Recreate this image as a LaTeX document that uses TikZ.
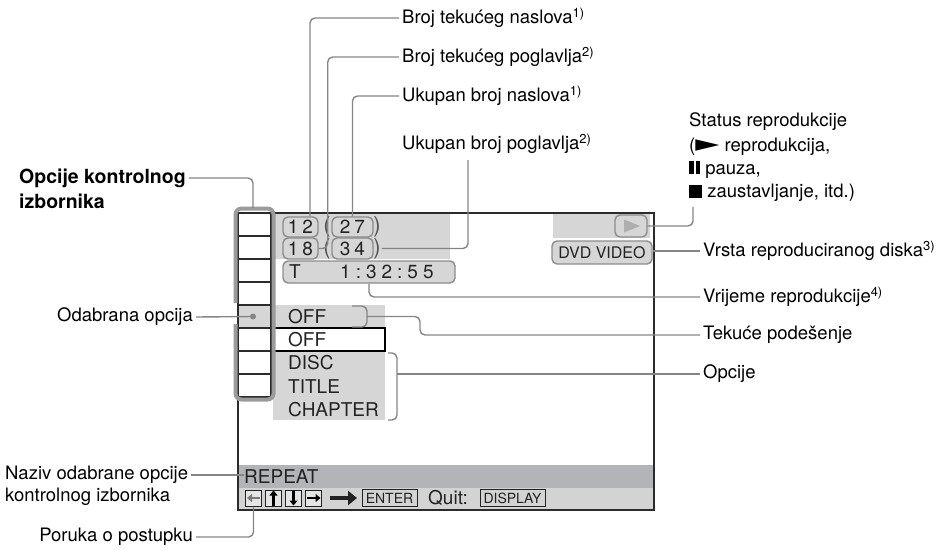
\documentclass[tikz,border=0pt]{standalone}
\usepackage{graphicx}
\usepackage{fontspec}
\setmainfont{TeX Gyre Heros}
\newfontfamily\symfont{DejaVu Sans}
\usetikzlibrary{arrows.meta}

\begin{document}
\begin{tikzpicture}[
    x=1pt, y=-1pt,
    font=\fontsize{18.5}{22}\selectfont,
    conn/.style={draw=linegray, line width=1.4pt, rounded corners=5pt},
    label/.style={inner sep=3pt},
    osd/.style={font=\fontsize{19}{22}\selectfont, text=osdtext, inner sep=0pt},
    pill/.style={draw=pillgray, line width=1.4pt, fill=osdgray, rounded corners=5pt, inner sep=0pt},
    paren/.style={font=\fontsize{22}{24}\selectfont, text=pillgray!60!black, inner sep=1pt},
    iconbox/.style={draw=osdtext, fill=barlight!60, line width=1pt, minimum width=16pt, minimum height=16pt, inner sep=0pt},
    keybox/.style={draw=osdtext, line width=1pt, minimum height=17pt, inner sep=1pt, font=\fontsize{14}{16}\selectfont, text=osdtext},
    icoarrow/.style={line width=2.2pt, -{Triangle[length=5pt,width=8pt]}}
]

% Colours of the on-screen display
\definecolor{linegray}{RGB}{133, 133, 133}
\definecolor{pillgray}{RGB}{140, 140, 140}
\definecolor{osdgray}{RGB}{214, 214, 214}
\definecolor{bardark}{RGB}{178, 180, 183}
\definecolor{barlight}{RGB}{211, 211, 211}
\definecolor{brgray}{RGB}{155, 155, 155}
\definecolor{screenline}{RGB}{43, 43, 43}
\definecolor{osdtext}{RGB}{34, 34, 34}

\useasboundingbox (0,0) rectangle (947,549);

% Grey areas on the screen
\fill[osdgray] (275,213) rectangle (450,259);
\fill[osdgray] (553,213) rectangle (650,238);
\fill[osdgray] (238,305) rectangle (385,328);
\fill[osdgray] (273,351) rectangle (385,420);
\fill[bardark] (238,465) rectangle (654,488);
\fill[barlight] (238,488) rectangle (654,510);
\filldraw[fill=white, draw=black, line width=1.4pt] (272,328) rectangle (385,351);

% Menu column cells
\foreach \y in {213,236,...,397} {
    \draw[line width=1.3pt, screenline] (238,\y) -- (271,\y);
}
\draw[line width=1.3pt, screenline] (271,213) -- (271,397);

% Screen frame
\draw[line width=2.2pt, screenline] (238,213) rectangle (654,510);

% Bracket round the menu column
\draw[line width=4pt, brgray, rounded corners=6pt]
    (235.5,303) -- (235.5,208.5) -- (273.5,208.5) -- (273.5,399.5) -- (235.5,399.5) -- (235.5,324);
\coordinate (menuTop) at (253,208);

% Title / chapter numbers
\node[pill, osd, minimum width=35pt, minimum height=20pt] (boxTitleNo) at (300.5,227) {1\hspace{4pt}2};
\node[pill, osd, minimum width=41pt, minimum height=20pt] (boxTitleTot) at (352.5,227) {2\hspace{4pt}7};
\node[paren] (parenTitleL) at (327,227) {(};
\node[paren] (parenTitleR) at (377,227) {)};
\node[pill, osd, minimum width=35pt, minimum height=21pt] (boxChapNo) at (300.5,248.5) {1\hspace{4pt}8};
\node[pill, osd, minimum width=41pt, minimum height=21pt] (boxChapTot) at (352.5,248.5) {3\hspace{4pt}4};
\node[paren] (parenChapL) at (327,248.5) {(};
\node[paren] (parenChapR) at (377,248.5) {)};

% Playing time
\node[pill, minimum width=172pt, minimum height=22pt] (boxTime) at (369,272) {};
\node[osd, anchor=west] (timeT) at (289,272) {T};
\node[osd, anchor=west] (timeVal) at (340,272) {1\hspace{5pt}:\hspace{5pt}3\hspace{5pt}2\hspace{5pt}:\hspace{5pt}5\hspace{5pt}5};

% Play status and disc type
\node[pill, minimum width=32pt, minimum height=22pt] (boxPlay) at (631,226) {};
\fill[pillgray!70] (624,219.5) -- (640,226) -- (624,232.5) -- cycle;
\node[pill, osd, font=\fontsize{16}{18}\selectfont, minimum width=100pt, minimum height=23pt] (boxDvd) at (602,252.5) {DVD VIDEO};

% Selected item and settings
\fill[linegray] (253,316.5) circle (3pt);
\coordinate (selDot) at (253,316.5);
\node[osd, anchor=west] (selOff) at (288,317) {OFF};
\draw[conn] (352,306) -- (367,306) -- (367,327) -- (352,327);
\coordinate (selEnd) at (367,316.5);
\node[osd, anchor=west] (optOff) at (288,340) {OFF};
\node[osd, anchor=west] (optDisc) at (288,363) {DISC};
\node[osd, anchor=west] (optTitle) at (288,386.5) {TITLE};
\node[osd, anchor=west] (optChapter) at (288,409.5) {CHAPTER};
\draw[conn] (388,353) -- (397,353) -- (397,420) -- (388,420);
\coordinate (optEnd) at (397,374);

% Bottom bars
\node[osd, anchor=west] (repeat) at (244,477) {REPEAT};
\node[iconbox] (icoLeft) at (253.5,498) {};
\node[iconbox] (icoUp) at (273.5,498) {};
\node[iconbox] (icoDown) at (293.5,498) {};
\node[iconbox] (icoRight) at (313.5,498) {};
\draw[icoarrow, osdtext!60] (260,498) -- (247,498);
\draw[icoarrow] (273.5,505.5) -- (273.5,490.5);
\draw[icoarrow] (293.5,490.5) -- (293.5,505.5);
\draw[icoarrow] (307,498) -- (320.5,498);
\draw[line width=4.5pt, osdtext, -{Triangle[length=9pt,width=14pt]}] (330,498) -- (357,498);
\node[keybox, minimum width=55pt] (keyEnter) at (389.5,498) {ENTER};
\node[osd, anchor=west] (quit) at (428,498) {Quit:};
\node[keybox, minimum width=65pt] (keyDisplay) at (512.5,498) {DISPLAY};

% Labels above
\node[label, anchor=west] (lblTitleNo) at (399,18) {Broj tekućeg naslova\textsuperscript{1)}};
\node[label, anchor=west] (lblChapNo) at (399,57) {Broj tekućeg poglavlja\textsuperscript{2)}};
\node[label, anchor=west] (lblTitleTot) at (399,96) {Ukupan broj naslova\textsuperscript{1)}};
\node[label, anchor=west] (lblChapTot) at (399,144) {Ukupan broj poglavlja\textsuperscript{2)}};

% Labels on the right
\node[label, anchor=west] (lblStatusA) at (686,122) {Status reprodukcije};
\node[label, anchor=west] (lblStatusB) at (686,147) {({\symfont\scalebox{1.7}[1.25]{►}} reprodukcija,};
\node[label, anchor=west] (lblStatusC) at (686,170) {\rule{4.5pt}{13pt}\hspace{2pt}\rule{4.5pt}{13pt} pauza,};
\node[label, anchor=west] (lblStatusD) at (686,193) {\rule{13pt}{13pt} zaustavljanje, itd.)};
\node[label, anchor=west] (lblDisc) at (700,251) {Vrsta reproduciranog diska\textsuperscript{3)}};
\node[label, anchor=west] (lblTime) at (700,297) {Vrijeme reprodukcije\textsuperscript{4)}};
\node[label, anchor=west] (lblSetting) at (700,335) {Tekuće podešenje};
\node[label, anchor=west] (lblOptions) at (700,374) {Opcije};

% Labels on the left
\node[label, anchor=west, font=\fontsize{19.5}{23}\selectfont\bfseries] (lblMenuA) at (16,178) {Opcije kontrolnog};
\node[label, anchor=west, font=\fontsize{19.5}{23}\selectfont\bfseries] (lblMenuB) at (16,201) {izbornika};
\node[label, anchor=east] (lblSel) at (196,317) {Odabrana opcija};
\node[label, anchor=west] (lblNameA) at (2,475) {Naziv odabrane opcije};
\node[label, anchor=west] (lblNameB) at (2,497) {kontrolnog izbornika};
\node[label, anchor=east] (lblMsg) at (196,537) {Poruka o postupku};

% Connectors
\draw[conn] (lblTitleNo.west) -| ([xshift=9.5pt]boxTitleNo.north);
\draw[conn] (lblChapNo.west) -| ([xshift=9pt]boxChapNo.east) -- (boxChapNo.east);
\draw[conn] (lblTitleTot.west) -| (boxTitleTot.north);
\draw[conn] ([xshift=69pt,yshift=-3pt]lblChapTot.south west) |- (parenChapR.east);
\draw[conn] ([xshift=7pt,yshift=-2pt]lblStatusD.south west) |- (boxPlay.east);
\draw[conn] (lblDisc.west) -- (lblDisc.west -| boxDvd.east);
\draw[conn] (lblTime.west) -| (boxTime.south);
\draw[conn] (lblSetting.west) -| ([xshift=53pt]selEnd) -- (selEnd);
\draw[conn] (lblOptions.west) -- (optEnd);
\draw[conn] (lblMenuA.east) -| (menuTop);
\draw[conn] (lblSel.east) -- (selDot);
\draw[conn] (lblNameA.east) -- (lblNameA.east -| repeat.west);
\draw[conn] (lblMsg.east) -| (icoLeft.south);

\end{tikzpicture}
\end{document}
